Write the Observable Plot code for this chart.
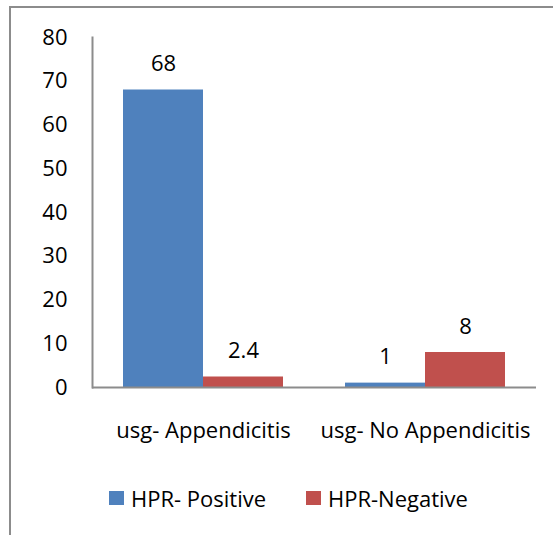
<!DOCTYPE html>
<html><head><meta charset="utf-8">
<script src="https://cdn.jsdelivr.net/npm/d3@7"></script>
<script src="https://cdn.jsdelivr.net/npm/@observablehq/plot@0.6"></script>
<style>
body{margin:0;background:#fff;font-family:"Open Sans",sans-serif;}
#wrap{position:relative;width:553px;height:535px;overflow:hidden;background:#fff;}
#border{position:absolute;left:9px;top:6px;width:600px;height:600px;border-top:2px solid #8c8c8c;border-left:2px solid #8c8c8c;}
#chart{position:absolute;left:0;top:0;}
.item{position:absolute;top:484px;height:28px;display:flex;align-items:center;font-size:22px;color:#000;white-space:nowrap;}
.sw{width:15px;height:14px;margin-right:7px;}
</style></head>
<body>
<div id="wrap">
  <div id="border"></div>
  <div id="chart"></div>
  <div id="legend"></div>
</div>
<script>
const categories = ["usg- Appendicitis", "usg- No Appendicitis"];
const seriesNames = ["HPR- Positive", "HPR-Negative"];
const positive = [68, 1];
const negative = [2.4, 8];
const yTicks = [0, 10, 20, 30, 40, 50, 60, 70, 80];
const colors = ["#4F81BD", "#C0504D"];

const data = [];
categories.forEach((c, i) => {
  data.push({category: c, series: seriesNames[0], value: positive[i]});
  data.push({category: c, series: seriesNames[1], value: negative[i]});
});

const chart = Plot.plot({
  width: 553,
  height: 460,
  marginLeft: 91,
  marginRight: 17,
  marginTop: 37,
  marginBottom: 73,
  style: {fontFamily: "'Open Sans', sans-serif", fontSize: "22px", color: "#000", background: "transparent"},
  fx: {domain: categories, padding: 0, label: null},
  x: {domain: seriesNames, paddingInner: 0, paddingOuter: 0.3735, axis: null},
  y: {domain: [0, 80], label: null},
  color: {domain: seriesNames, range: colors},
  marks: [
    Plot.barY(data, {fx: "category", x: "series", y: "value", fill: "series"}),
    Plot.text(data, {fx: "category", x: "series", y: "value", text: d => String(d.value), dy: -26, fill: "#000", fontSize: 22}),
    Plot.ruleY([0], {stroke: "#8c8c8c", strokeWidth: 2}),
    Plot.frame({anchor: "left", facetAnchor: "left", stroke: "#8c8c8c", strokeWidth: 2}),
    Plot.axisY(yTicks, {tickSize: 0, tickPadding: 25, label: null, fontSize: 22}),
    Plot.axisFx({anchor: "bottom", tickSize: 0, tickPadding: 35, label: null, fontSize: 22})
  ]
});
document.getElementById("chart").appendChild(chart);

const legend = document.getElementById("legend");
const lefts = [109, 306];
seriesNames.forEach((s, i) => {
  const item = document.createElement("div");
  item.className = "item";
  item.style.left = lefts[i] + "px";
  const sw = document.createElement("span");
  sw.className = "sw";
  sw.style.background = colors[i];
  const t = document.createElement("span");
  t.textContent = s;
  item.appendChild(sw);
  item.appendChild(t);
  legend.appendChild(item);
});
</script>
</body></html>
